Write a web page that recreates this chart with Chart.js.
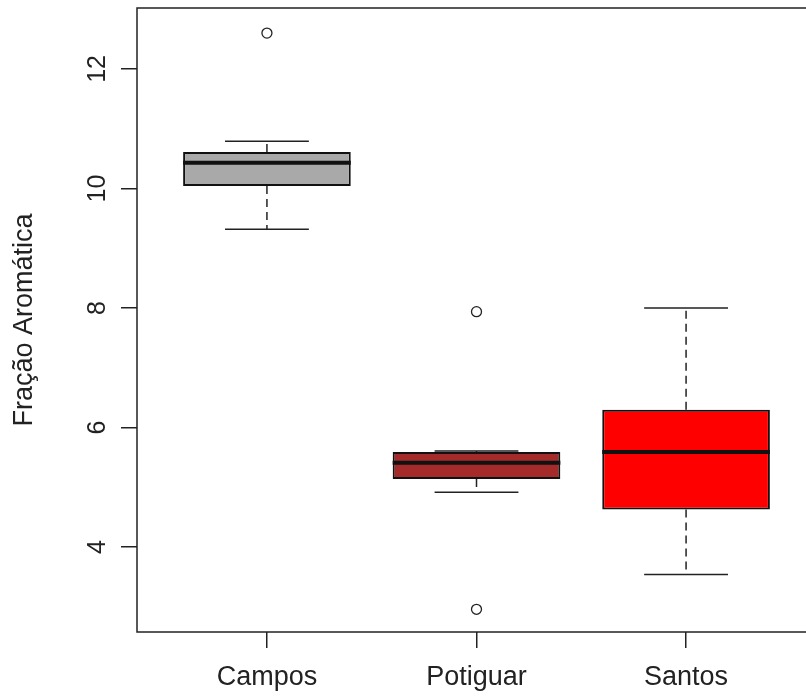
<!DOCTYPE html>
<html>
<head>
<meta charset="utf-8">
<script src="https://cdn.jsdelivr.net/npm/chart.js@4"></script>
<style>
  html, body { margin: 0; padding: 0; background: #fff; overflow: hidden; }
  #wrap { width: 830px; height: 700px; }
</style>
</head>
<body>
<div id="wrap"><canvas id="chart" width="830" height="700"></canvas></div>
<script>
// boxplot summary per basin
const categories = ['Campos', 'Potiguar', 'Santos'];
const whiskerLow = [9.32, 4.92, 3.54];
const q1 = [10.04, 5.14, 4.63];
const medians = [10.43, 5.41, 5.59];
const q3 = [10.61, 5.59, 6.30];
const whiskerHigh = [10.79, 5.61, 8.00];
const outliers = [[12.60], [7.94, 2.96], []];
const boxColors = ['#a9a9a9', '#a52a2a', '#ff0000'];
const yTicks = [4, 6, 8, 10, 12];

const FONT = "'Liberation Sans', Arial, sans-serif";
const INK = '#222';

// whiskers, caps, medians and the frame
const boxExtras = {
  id: 'boxExtras',
  afterDatasetsDraw(chart) {
    const { ctx, chartArea, scales: { x, y } } = chart;
    const bars = chart.getDatasetMeta(0).data;
    ctx.save();
    ctx.strokeStyle = INK;
    categories.forEach((c, i) => {
      const cx = x.getPixelForValue(i + 1);
      const half = bars[i].width / 2;
      const capHalf = half / 2;

      ctx.lineWidth = 1.5;
      ctx.setLineDash([8, 5]);
      ctx.beginPath();
      ctx.moveTo(cx, y.getPixelForValue(q3[i]));
      ctx.lineTo(cx, y.getPixelForValue(whiskerHigh[i]));
      ctx.moveTo(cx, y.getPixelForValue(q1[i]));
      ctx.lineTo(cx, y.getPixelForValue(whiskerLow[i]));
      ctx.stroke();

      ctx.setLineDash([]);
      ctx.beginPath();
      [whiskerHigh[i], whiskerLow[i]].forEach(v => {
        const py = y.getPixelForValue(v);
        ctx.moveTo(cx - capHalf, py);
        ctx.lineTo(cx + capHalf, py);
      });
      ctx.stroke();

      ctx.lineWidth = 4;
      ctx.strokeStyle = '#111';
      ctx.beginPath();
      const my = y.getPixelForValue(medians[i]);
      ctx.moveTo(cx - half, my);
      ctx.lineTo(cx + half, my);
      ctx.stroke();
      ctx.strokeStyle = INK;
    });

    ctx.lineWidth = 1.5;
    ctx.strokeRect(chartArea.left, chartArea.top,
      chartArea.right - chartArea.left, chartArea.bottom - chartArea.top);
    ctx.restore();
  }
};

const outlierPoints = [];
outliers.forEach((list, i) => list.forEach(v => outlierPoints.push({ x: i + 1, y: v })));

new Chart(document.getElementById('chart').getContext('2d'), {
  type: 'bar',
  data: {
    datasets: [{
      type: 'bar',
      data: categories.map((c, i) => ({ x: i + 1, y: [q1[i], q3[i]] })),
      backgroundColor: boxColors,
      borderColor: '#111',
      borderWidth: 2,
      borderSkipped: false,
      barPercentage: 0.8,
      categoryPercentage: 1,
    }, {
      type: 'scatter',
      data: outlierPoints,
      pointStyle: 'circle',
      pointRadius: 5,
      pointBackgroundColor: '#fff',
      pointBorderColor: INK,
      pointBorderWidth: 1.3,
    }],
  },
  options: {
    responsive: false,
    animation: false,
    events: [],
    layout: { padding: { top: 8, right: 14, left: 0, bottom: 0 } },
    plugins: { legend: { display: false }, tooltip: { enabled: false } },
    scales: {
      x: {
        type: 'linear',
        min: 0.38,
        max: 3.62,
        offset: false,
        afterBuildTicks: scale => { scale.ticks = categories.map((c, i) => ({ value: i + 1 })); },
        afterFit: scale => {
          scale.height = 68;
          scale.paddingLeft = 0;
          scale.paddingRight = 0;
        },
        ticks: {
          callback: v => categories[v - 1],
          font: { family: FONT, size: 27 },
          color: INK,
          padding: 13,
          maxRotation: 0,
        },
        grid: { offset: false, drawOnChartArea: false, tickLength: 16, color: INK, lineWidth: 1.5 },
        border: { display: false },
      },
      y: {
        min: 2.58,
        max: 13.02,
        afterBuildTicks: scale => { scale.ticks = yTicks.map(v => ({ value: v })); },
        afterFit: scale => {
          scale.width = 137;
          scale.paddingTop = 0;
          scale.paddingBottom = 0;
        },
        ticks: {
          font: { family: FONT, size: 25 },
          color: INK,
          minRotation: 90,
          maxRotation: 90,
          crossAlign: 'center',
          padding: 9,
        },
        grid: { drawOnChartArea: false, tickLength: 16, color: INK, lineWidth: 1.5 },
        border: { display: false },
        title: {
          display: true,
          text: 'Fração Aromática',
          font: { family: FONT, size: 27 },
          color: INK,
          padding: { top: 8, bottom: 0 },
        },
      },
    },
  },
  plugins: [boxExtras],
});
</script>
</body>
</html>
